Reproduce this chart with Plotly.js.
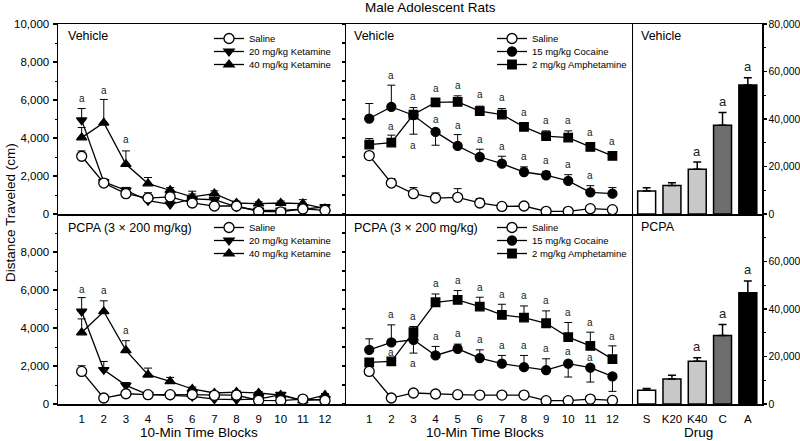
<!DOCTYPE html>
<html><head><meta charset="utf-8">
<script src="https://cdn.plot.ly/plotly-3.0.1.min.js"></script>
<style>html,body{margin:0;padding:0;background:#fff}#chart{width:800px;height:441px}</style>
</head><body><div id="chart"></div>
<script>
// ---------- DATA ----------
const blocks = [1,2,3,4,5,6,7,8,9,10,11,12];

// Vehicle – ketamine panel
const vehSalK = [3040,1630,1070,840,900,580,420,420,140,110,265,195];
const vehSalKErr = [280,120,150,280,300,150,80,80,50,50,100,60];
const vehK20 = [4940,1690,1250,700,510,800,750,370,190,190,250,370];
const vehK20Err = [610,150,150,200,150,250,250,150,100,100,100,100];
const vehK40 = [4020,4800,2620,1600,1250,900,1070,580,545,580,545,280];
const vehK40Err = [530,1230,700,320,140,300,150,100,100,100,210,60];
const vehKetLetters = [[1,6080],[2,6520],[3,3920]];

// Vehicle – cocaine / amphetamine panel
const vehSalCA = [3075,1630,1070,840,880,580,400,420,140,140,280,230];
const vehSalCAErr = [100,230,320,270,455,230,80,120,50,50,80,60];
const vehCoc = [5025,5640,5200,4320,3585,3000,2650,2210,2040,1740,1140,1070];
const vehCocErrUp = [790,1140,0,0,595,410,390,270,210,330,350,320];
const vehCocErrDown = [0,0,1000,700,0,0,0,0,0,0,0,0];
const vehAmph = [3650,3760,5235,5870,5900,5410,5235,4585,4095,4020,3530,3060];
const vehAmphErr = [320,390,365,210,320,265,315,215,280,355,210,210];
const vehCALetters = [[2,7310],[2,4620],[3,6170],[3,3620],[4,6600],[4,4990],[5,6750],[5,4640],
  [6,6290],[6,3920],[7,6110],[7,3570],[8,5320],[8,3000],[9,4940],[9,2830],[10,4940],[10,2600],
  [11,4270],[11,2000],[12,3830]];

// PCPA – ketamine panel
const pcpaSalK = [1715,315,540,490,490,490,455,470,190,175,260,190];
const pcpaSalKErr = [300,80,100,80,80,80,80,80,50,50,50,50];
const pcpaK20 = [4870,1800,980,490,455,400,260,230,260,490,175,260];
const pcpaK20Err = [730,440,150,100,80,80,80,80,80,80,80,80];
const pcpaK40 = [3760,4870,2820,1540,1190,790,580,630,580,470,175,470];
const pcpaK40Err = [720,560,510,350,210,100,80,80,80,80,50,80];
const pcpaKetLetters = [[1,6040],[2,5950],[3,3870]];

// PCPA – cocaine / amphetamine panel
const pcpaSalCA = [1715,315,580,525,490,470,470,470,175,175,260,190];
const pcpaSalCAErr = [80,60,60,60,60,60,60,60,50,50,50,50];
const pcpaCoc = [2850,3240,3380,2555,2905,2415,2120,1940,1785,2120,1910,1450];
const pcpaCocErrUp = [580,925,0,475,245,435,435,615,595,0,0,0];
const pcpaCocErrDown = [0,0,700,0,0,0,0,0,0,700,755,785];
const pcpaAmph = [2190,2240,3780,5355,5480,5130,4690,4550,4250,3520,3060,2360];
const pcpaAmphErr = [150,150,300,435,490,490,560,610,650,770,720,700];
const pcpaCALetters = [[2,4725],[2,2730],[3,4600],[3,2150],[4,6320],[4,3550],[5,6475],[5,3690],
  [6,6125],[6,3380],[7,5775],[7,3060],[8,5690],[8,3060],[9,5440],[9,2940],[10,4810],[10,2765],
  [11,4300],[11,2450],[12,3550]];

// Total distance bars
const drugs = ['S','K20','K40','C','A'];
const vehTotal = [9700,11950,18840,37400,54270];
const vehTotalErr = [1400,1250,3090,5340,3090];
const pcpaTotal = [5770,10560,18020,28860,46890];
const pcpaTotalErr = [710,1550,1410,4650,4920];
const barColors = ['#ffffff','#c8c8c8','#c8c8c8','#6e6e6e','#000000'];
const vehBarLetters = [['K40',26400],['C',47520],['A',62000]];
const pcpaBarLetters = [['K40',24360],['C',38020],['A',56460]];

const timeTicks = blocks;
const leftTicksTop = [0,2000,4000,6000,8000,10000];
const leftTicksBot = [0,2000,4000,6000,8000];
const rightTicksTop = [0,20000,40000,60000,80000];
const rightTicksBot = [0,20000,40000,60000];

// ---------- BUILD ----------
const FONT = 'Liberation Sans, Arial, sans-serif';
function series(y, up, down, name, symbol, fill, xa, ya, legend, size) {
  const e = {type:'data', array:up, symmetric:false, arrayminus: down || up.map(()=>0),
             color:'#000', thickness:1, width:4};
  return {type:'scatter', mode:'lines+markers', x:blocks, y:y, name:name, xaxis:xa, yaxis:ya,
          legend:legend, error_y:e,
          line:{color:'#000', width:1.3},
          marker:{symbol:symbol, size:size||9, color:fill, line:{color:'#000', width:1.3}}};
}
const data = [
  series(vehK20, vehK20Err, null, '20 mg/kg Ketamine', 'triangle-down', '#000', 'x','y','legend2'),
  series(vehK40, vehK40Err, null, '40 mg/kg Ketamine', 'triangle-up', '#000', 'x','y','legend3'),
  series(vehSalK, vehSalKErr, null, 'Saline', 'circle', '#fff', 'x','y','legend',10),

  series(vehCoc, vehCocErrUp, vehCocErrDown, '15 mg/kg Cocaine', 'circle', '#000', 'x2','y2','legend5'),
  series(vehAmph, vehAmphErr, null, '2 mg/kg Amphetamine', 'square', '#000', 'x2','y2','legend6',8.5),
  series(vehSalCA, vehSalCAErr, null, 'Saline', 'circle', '#fff', 'x2','y2','legend4',10),

  series(pcpaK20, pcpaK20Err, null, '20 mg/kg Ketamine', 'triangle-down', '#000', 'x4','y4','legend8'),
  series(pcpaK40, pcpaK40Err, null, '40 mg/kg Ketamine', 'triangle-up', '#000', 'x4','y4','legend9'),
  series(pcpaSalK, pcpaSalKErr, null, 'Saline', 'circle', '#fff', 'x4','y4','legend7',10),

  series(pcpaCoc, pcpaCocErrUp, pcpaCocErrDown, '15 mg/kg Cocaine', 'circle', '#000', 'x5','y5','legend11'),
  series(pcpaAmph, pcpaAmphErr, null, '2 mg/kg Amphetamine', 'square', '#000', 'x5','y5','legend12',8.5),
  series(pcpaSalCA, pcpaSalCAErr, null, 'Saline', 'circle', '#fff', 'x5','y5','legend10',10),

  {type:'bar', x:drugs, y:vehTotal, xaxis:'x3', yaxis:'y3', showlegend:false, width:0.71,
   marker:{color:barColors, line:{color:'#000', width:1.5}},
   error_y:{type:'data', array:vehTotalErr, symmetric:false, arrayminus:drugs.map(()=>0), color:'#000', thickness:1.5, width:4}},
  {type:'bar', x:drugs, y:pcpaTotal, xaxis:'x6', yaxis:'y6', showlegend:false, width:0.71,
   marker:{color:barColors, line:{color:'#000', width:1.5}},
   error_y:{type:'data', array:pcpaTotalErr, symmetric:false, arrayminus:drugs.map(()=>0), color:'#000', thickness:1.5, width:4}}
];

const xL = [58/800, 346/800], xM = [346/800, 633/800], xR = [633/800, 762/800];
const yT = [1-214/441, 1-24/441], yB = [1-404/441, 1-214/441];
const tickFont = {family:FONT, size:11.5, color:'#000'};
const lineX = (dom, anchor, labels, range, mirror) => ({
  domain:dom, anchor:anchor, range:range, showline:true, linecolor:'#000', linewidth:1.5,
  mirror:mirror, showgrid:false, zeroline:false, ticks:'', fixedrange:true,
  tickvals:timeTicks, showticklabels:labels, tickfont:tickFont, ticklabelstandoff:4
});
const leftY = (dom, anchor, vals) => ({
  domain:dom, anchor:anchor, range:[0,10000], showline:true, linecolor:'#000', linewidth:1.5,
  showgrid:false, zeroline:false, ticks:'outside', ticklen:4, tickcolor:'#000', tickwidth:1.2,
  tickvals:vals, tickformat:',', tickfont:tickFont, ticklabelstandoff:1,
  minor:{ticks:'outside', ticklen:2, dtick:1000, tick0:0, tickcolor:'#000', tickwidth:1}
});
const midY = (dom, anchor) => ({
  domain:dom, anchor:anchor, range:[0,10000], showline:true, linecolor:'#000', linewidth:1.5,
  showgrid:false, zeroline:false, ticks:'outside', ticklen:3, tickcolor:'#000', tickwidth:1.2,
  dtick:1000, tick0:0, showticklabels:false
});
const rightY = (dom, anchor, vals) => ({
  domain:dom, anchor:anchor, side:'right', range:[0,80000], showline:true, linecolor:'#000',
  linewidth:1.5, mirror:true, showgrid:false, zeroline:false, ticks:'outside', ticklen:3,
  tickcolor:'#000', tickwidth:1.2, tickvals:vals, tickformat:',',
  tickfont:{family:FONT, size:10.4, color:'#000'}, ticklabelstandoff:0,
  minor:{ticks:'outside', ticklen:2, dtick:10000, tick0:0, tickcolor:'#000', tickwidth:1}
});
const barX = (dom, anchor, labels, mirror) => ({
  domain:dom, anchor:anchor, type:'category', range:[-0.54,4.56], showline:true, linecolor:'#000',
  linewidth:1.5, mirror:mirror, ticks:'', showgrid:false, showticklabels:labels, tickfont:tickFont,
  ticklabelstandoff:4
});

const annotations = [];
function letters(list, xa, ya, size) {
  list.forEach(([x, y]) => annotations.push({xref:xa, yref:ya, x:x, y:y, text:'a', showarrow:false,
    font:{family:FONT, size:size, color:'#222'}}));
}
letters(vehKetLetters, 'x', 'y', 10);
letters(vehCALetters, 'x2', 'y2', 10);
letters(pcpaKetLetters, 'x4', 'y4', 10);
letters(pcpaCALetters, 'x5', 'y5', 10);
letters(vehBarLetters, 'x3', 'y3', 13);
letters(pcpaBarLetters, 'x6', 'y6', 13);

function ptxt(text, px, py, size, opts) {
  annotations.push(Object.assign({xref:'paper', yref:'paper', x:px/800, y:1-py/441, text:text,
    showarrow:false, xanchor:'left', yanchor:'middle', font:{family:FONT, size:size, color:'#000'}}, opts||{}));
}
ptxt('Vehicle', 66, 36, 12.5);
ptxt('Vehicle', 352, 36, 12.5);
ptxt('Vehicle', 639, 36, 12.5);
ptxt('PCPA (3 \u00d7 200 mg/kg)', 66, 228, 12.5);
ptxt('PCPA (3 \u00d7 200 mg/kg)', 352, 228, 12.5);
ptxt('PCPA', 639, 227, 12.5);
ptxt('Male Adolescent Rats', 431, 8, 13.5, {xanchor:'center'});
ptxt('10-Min Time Blocks', 199, 432, 13.5, {xanchor:'center'});
ptxt('10-Min Time Blocks', 485, 432, 13.5, {xanchor:'center'});
ptxt('Drug', 698, 432, 13.5, {xanchor:'center'});
ptxt('Distance Traveled (cm)', 10, 213, 13.5, {xanchor:'center', textangle:-90});

const legendBase = {xanchor:'left', yanchor:'top', bgcolor:'rgba(0,0,0,0)', borderwidth:0,
  font:{family:FONT, size:9.5, color:'#000'}, itemwidth:30, tracegroupgap:0};
// one single-entry legend per row so the rows can sit as close as in the reference
const legX = [209, 492], rowTop = [39, 52, 65], rowBot = [228, 241, 254];
const layout = {
  width:800, height:441, margin:{l:0, r:0, t:0, b:0}, paper_bgcolor:'#fff', plot_bgcolor:'rgba(0,0,0,0)',
  font:{family:FONT, color:'#000'}, barmode:'group', showlegend:true,
  xaxis: lineX(xL, 'y', false, [-0.07,12.95], true),
  yaxis: leftY(yT, 'x', leftTicksTop),
  xaxis2: lineX(xM, 'y2', false, [-0.05,12.93], true),
  yaxis2: midY(yT, 'x2'),
  xaxis3: barX(xR, 'y3', false, true),
  yaxis3: rightY(yT, 'x3', rightTicksTop),
  xaxis4: lineX(xL, 'y4', true, [-0.07,12.95], false),
  yaxis4: leftY(yB, 'x4', leftTicksBot),
  xaxis5: lineX(xM, 'y5', true, [-0.05,12.93], false),
  yaxis5: midY(yB, 'x5'),
  xaxis6: barX(xR, 'y6', true, false),
  yaxis6: rightY(yB, 'x6', rightTicksBot),
  annotations: annotations
};
const legendSlots = [
  [legX[0], rowTop], [legX[1], rowTop], [legX[0], rowBot], [legX[1], rowBot]
];
let n = 1;
legendSlots.forEach(([lx, rows]) => rows.forEach(cy => {
  const key = n === 1 ? 'legend' : 'legend' + n;
  layout[key] = Object.assign({x:lx/800, y:1-(cy-15)/441}, legendBase);
  n++;
}));
Plotly.newPlot('chart', data, layout, {staticPlot:true, displayModeBar:false});
</script>
</body></html>
